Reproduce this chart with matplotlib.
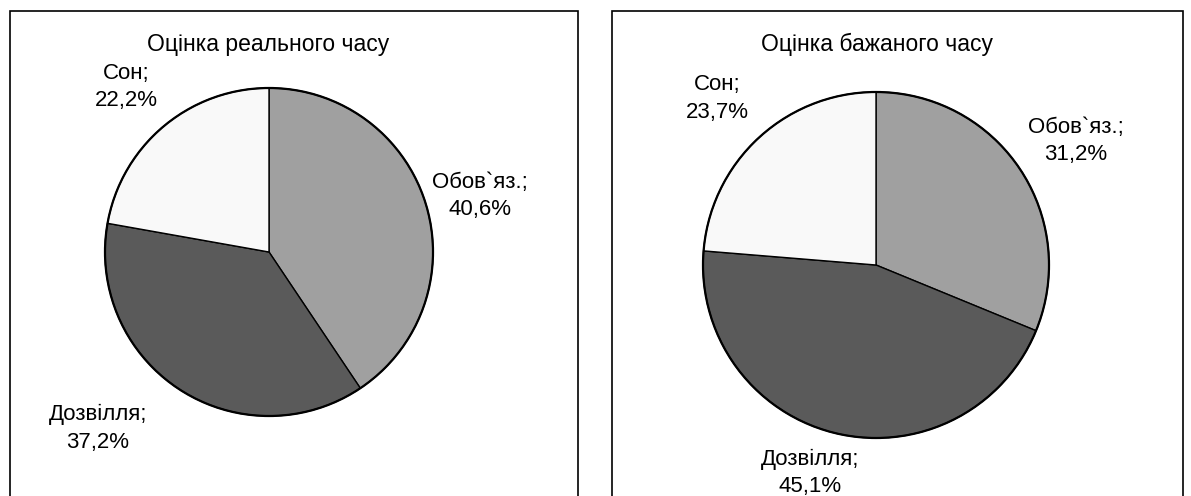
import numpy as np
import matplotlib.pyplot as plt
from matplotlib.patches import Rectangle

categories = ['Обов`яз.', 'Дозвілля', 'Сон']
real_time = [40.6, 37.2, 22.2]
wished_time = [31.2, 45.1, 23.7]
titles = ['Оцінка реального часу', 'Оцінка бажаного часу']
colors = ['#a0a0a0', '#5a5a5a', '#f9f9f9']

plt.rcParams['font.family'] = ['Liberation Sans', 'DejaVu Sans']

W, H = 1191, 496
fig = plt.figure(figsize=(W / 100, H / 100), dpi=100)

# panel frames (bottom edge is cut off in the original)
fig.patches.append(Rectangle((10 / W, -0.1), 568 / W, 1.1 - 11 / H, transform=fig.transFigure,
                             fill=False, edgecolor='black', linewidth=1.2))
fig.patches.append(Rectangle((612 / W, -0.1), 571 / W, 1.1 - 11 / H, transform=fig.transFigure,
                             fill=False, edgecolor='black', linewidth=1.2))

# pie centre (px from left, px from top), radius px, label distance / angle nudges
panels = [
    dict(values=real_time, title=titles[0], cx=269, cy=252, r=164, tx=268,
         dist=[1.33, 1.50, 1.33], nudge=[-2, -11, 1]),
    dict(values=wished_time, title=titles[1], cx=876, cy=265, r=173, tx=877,
         dist=[1.36, 1.26, 1.33], nudge=[-2, -4, 1]),
]

s = 1.7
for p in panels:
    side = 2 * p['r'] * s
    ax = fig.add_axes([(p['cx'] - side / 2) / W, (H - p['cy'] - side / 2) / H, side / W, side / H])
    wedges, _ = ax.pie(p['values'], colors=colors, startangle=90, counterclock=False,
                       wedgeprops=dict(edgecolor='black', linewidth=1.0))
    ax.add_patch(plt.Circle((0, 0), 1, fill=False, edgecolor='black', linewidth=1.6))
    ax.set_xlim(-s, s)
    ax.set_ylim(-s, s)
    ax.set_aspect('equal')
    ax.axis('off')
    for w, name, v, d, n in zip(wedges, categories, p['values'], p['dist'], p['nudge']):
        ang = np.deg2rad((w.theta1 + w.theta2) / 2 + n)
        lbl = f'{name};\n' + f'{v:.1f}%'.replace('.', ',')
        ax.text(d * np.cos(ang), d * np.sin(ang), lbl, ha='center', va='center',
                fontsize=16, linespacing=1.4, clip_on=False)
    fig.text(p['tx'] / W, 1 - 44 / H, p['title'], ha='center', va='center', fontsize=16.5)

fig.savefig('out.png', dpi=100)
